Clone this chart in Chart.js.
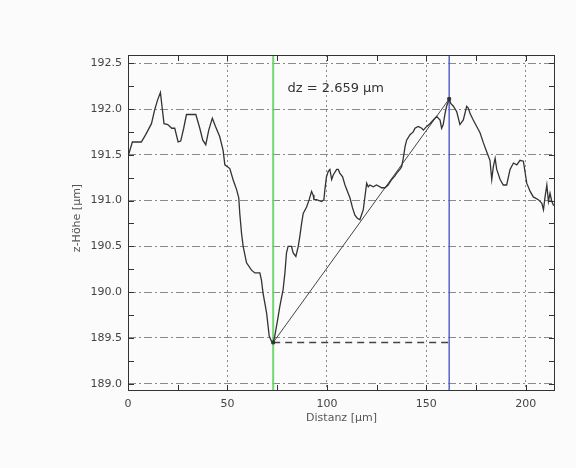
<!DOCTYPE html>
<html lang="de">

<head>
    <meta charset="UTF-8">
    <title>Höhenprofil</title>
    <script src="https://cdn.jsdelivr.net/npm/chart.js"></script>
    <style>
        body {
            margin: 0;
            background: #fafbfa;
        }

        canvas {
            display: block;
        }
    </style>
</head>

<body>
    <canvas id="chart" width="576" height="468"></canvas>

    <script>
        // Profil: Distanz [µm] / z-Höhe [µm]
        const distanz = [
            0, 2.2, 6.7, 8.9, 11.8, 13.4, 14.9, 16.3, 18.1, 20.0, 22.0, 23.5, 25.2, 26.5, 28.0, 29.4, 34.1, 36.1, 37.6, 39.1,
            40.6, 42.4, 44.0, 46.1, 47.8, 48.7, 51.2, 52.8, 54.6, 55.7, 56.2, 57.1, 57.9, 59.6, 62.1, 63.8, 66.3, 67.1, 67.9, 69.7,
            71.0, 72.2, 73.0, 73.8, 75.1, 76.3, 78.0, 78.9, 79.7, 80.5, 82.2, 83.0, 84.4, 85.6, 86.4, 87.3, 88.1, 89.8, 91.1, 92.3,
            93.1, 93.5, 94.8, 97.3, 98.5, 99.0, 99.8, 100.7, 101.5, 102.4, 103.2, 104.9, 105.7, 106.5, 107.9, 109.1, 110.7, 111.6, 112.9, 114.1,
            115.2, 116.6, 118.3, 120.0, 120.8, 121.6, 123.3, 125.0, 127.5, 129.2, 130.8, 132.6, 134.2, 135.1, 136.7, 137.6, 138.4, 139.3, 140.1, 141.8,
            143.4, 144.3, 145.9, 147.7, 148.5, 150.2, 151.8, 153.5, 155.2, 156.9, 157.7, 158.5, 159.4, 160.2, 161.5, 162.3, 163.6, 165.3, 166.9, 168.6,
            170.3, 171.1, 172.0, 173.6, 177.0, 178.7, 180.4, 182.0, 182.9, 183.7, 184.6, 185.4, 187.1, 188.7, 190.4, 192.1, 193.8, 195.5, 197.1, 198.8,
            200.5, 202.2, 203.8, 206.3, 208.1, 208.9, 209.7, 210.6, 211.4, 212.2, 213.1, 213.9, 214.7
        ];
        const hoehe = [
            191.48, 191.64, 191.64, 191.72, 191.84, 191.99, 192.10, 192.18, 191.84, 191.83, 191.79, 191.79, 191.64, 191.65, 191.79, 191.94, 191.94, 191.79, 191.66, 191.61,
            191.77, 191.90, 191.81, 191.70, 191.55, 191.39, 191.35, 191.23, 191.12, 191.03, 190.86, 190.64, 190.50, 190.32, 190.24, 190.21, 190.21, 190.13, 189.99, 189.77,
            189.52, 189.46, 189.45, 189.52, 189.68, 189.84, 190.03, 190.21, 190.43, 190.50, 190.50, 190.43, 190.39, 190.50, 190.61, 190.75, 190.86, 190.93, 191.01, 191.10,
            191.06, 191.01, 191.01, 190.99, 191.01, 191.12, 191.26, 191.32, 191.34, 191.23, 191.28, 191.34, 191.34, 191.30, 191.26, 191.17, 191.08, 191.03, 190.92, 190.84,
            190.81, 190.79, 190.90, 191.19, 191.15, 191.17, 191.15, 191.17, 191.14, 191.14, 191.17, 191.23, 191.27, 191.30, 191.34, 191.37, 191.46, 191.59, 191.66, 191.72,
            191.75, 191.79, 191.81, 191.79, 191.77, 191.81, 191.84, 191.88, 191.92, 191.88, 191.79, 191.83, 191.95, 192.03, 192.11, 192.06, 192.03, 191.97, 191.83, 191.88,
            192.03, 192.01, 191.95, 191.88, 191.74, 191.63, 191.53, 191.44, 191.23, 191.37, 191.46, 191.34, 191.23, 191.17, 191.17, 191.34, 191.41, 191.39, 191.44, 191.43,
            191.19, 191.10, 191.04, 191.01, 190.97, 190.90, 191.04, 191.17, 190.99, 191.08, 190.99, 190.95, 190.95
        ];

        // Messmarken (Cursor A grün, Cursor B blau)
        const cursorA = { x: 73.0, z: 189.45 };
        const cursorB = { x: 161.5, z: 192.11 };
        const dzText = 'dz = 2.659 µm';

        // Achsen
        const xRange = [0, 214.7];
        const yRange = [188.92, 192.59];
        const xTicks = [0, 50, 100, 150, 200];
        const yTicks = [189.0, 189.5, 190.0, 190.5, 191.0, 191.5, 192.0, 192.5];
        const xMinor = [25, 75, 125, 175];
        const yMinor = [189.25, 189.75, 190.25, 190.75, 191.25, 191.75, 192.25];

        const profil = distanz.map((x, i) => ({ x: x, y: hoehe[i] }));

        const labelFont = { family: 'DejaVu Sans', size: 11 };

        // Rahmen, Innen-Ticks, Beschriftungen
        const rahmen = {
            id: 'rahmen',
            afterDatasetsDraw(chart) {
                const { ctx, chartArea: a, scales } = chart;
                const xs = scales.x, ys = scales.y;
                ctx.save();
                ctx.strokeStyle = '#333';
                ctx.lineWidth = 1;
                ctx.setLineDash([]);
                ctx.strokeRect(a.left + 0.5, a.top + 0.5, a.right - a.left - 1, a.bottom - a.top - 1);

                ctx.beginPath();
                xTicks.concat(xMinor).forEach(v => {
                    const px = Math.round(xs.getPixelForValue(v)) + 0.5;
                    ctx.moveTo(px, a.bottom); ctx.lineTo(px, a.bottom - 6);
                    ctx.moveTo(px, a.top); ctx.lineTo(px, a.top + 6);
                });
                yTicks.concat(yMinor).forEach(v => {
                    const py = Math.round(ys.getPixelForValue(v)) + 0.5;
                    ctx.moveTo(a.left, py); ctx.lineTo(a.left + 6, py);
                    ctx.moveTo(a.right, py); ctx.lineTo(a.right - 6, py);
                });
                ctx.stroke();

                // dz-Anzeige
                ctx.fillStyle = '#333';
                ctx.font = '13px "DejaVu Sans"';
                ctx.textAlign = 'left';
                ctx.textBaseline = 'middle';
                ctx.fillText(dzText, xs.getPixelForValue(80.2), ys.getPixelForValue(192.22));

                // Achsentitel
                ctx.fillStyle = '#555';
                ctx.font = '11px "DejaVu Sans"';
                ctx.textAlign = 'center';
                ctx.fillText('Distanz [µm]', (a.left + a.right) / 2, a.bottom + 27);
                ctx.translate(a.left - 51, (a.top + a.bottom) / 2 - 5);
                ctx.rotate(-Math.PI / 2);
                ctx.fillText('z-Höhe [µm]', 0, 0);
                ctx.restore();
            }
        };

        new Chart(document.getElementById('chart'), {
            type: 'line',
            data: {
                datasets: [
                    {
                        label: 'Profil',
                        data: profil,
                        borderColor: '#333',
                        borderWidth: 1.3,
                        pointRadius: 0,
                        tension: 0
                    },
                    {
                        label: 'Verbindung',
                        data: [{ x: cursorA.x, y: cursorA.z }, { x: cursorB.x, y: cursorB.z }],
                        borderColor: '#444',
                        borderWidth: 1,
                        pointRadius: 2,
                        pointStyle: 'rect',
                        pointBackgroundColor: '#333',
                        pointBorderColor: '#333',
                        tension: 0
                    },
                    {
                        label: 'Referenz',
                        data: [{ x: cursorA.x, y: cursorA.z }, { x: cursorB.x, y: cursorA.z }],
                        borderColor: '#444',
                        borderWidth: 1.3,
                        borderDash: [7, 5],
                        pointRadius: 0
                    },
                    {
                        label: 'Cursor A',
                        data: [{ x: cursorA.x, y: yRange[0] }, { x: cursorA.x, y: yRange[1] }],
                        borderColor: '#6fd86f',
                        borderWidth: 2,
                        pointRadius: 0
                    },
                    {
                        label: 'Cursor B',
                        data: [{ x: cursorB.x, y: yRange[0] }, { x: cursorB.x, y: yRange[1] }],
                        borderColor: '#5a62c8',
                        borderWidth: 1.5,
                        pointRadius: 0
                    }
                ]
            },
            options: {
                responsive: false,
                animation: false,
                layout: { padding: { left: 0, right: 21, top: 55, bottom: 0 } },
                plugins: {
                    legend: { display: false },
                    tooltip: { enabled: false }
                },
                scales: {
                    x: {
                        type: 'linear',
                        min: xRange[0],
                        max: xRange[1],
                        afterBuildTicks: s => { s.ticks = xTicks.map(v => ({ value: v })); },
                        afterFit: s => { s.height = 77; },
                        grid: { color: '#8a8a8a', lineWidth: 1, drawTicks: false },
                        border: { display: false, dash: [2, 3] },
                        ticks: {
                            color: '#444',
                            font: labelFont,
                            padding: 7,
                            maxRotation: 0,
                            callback: v => String(v)
                        }
                    },
                    y: {
                        type: 'linear',
                        min: yRange[0],
                        max: yRange[1],
                        afterBuildTicks: s => { s.ticks = yTicks.map(v => ({ value: v })); },
                        afterFit: s => { s.width = 128; },
                        grid: { color: '#8a8a8a', lineWidth: 1, drawTicks: false },
                        border: { display: false, dash: [8, 3, 2, 3] },
                        ticks: {
                            color: '#444',
                            font: labelFont,
                            padding: 6,
                            callback: v => Number(v).toFixed(1)
                        }
                    }
                }
            },
            plugins: [rahmen]
        });
    </script>
</body>

</html>
